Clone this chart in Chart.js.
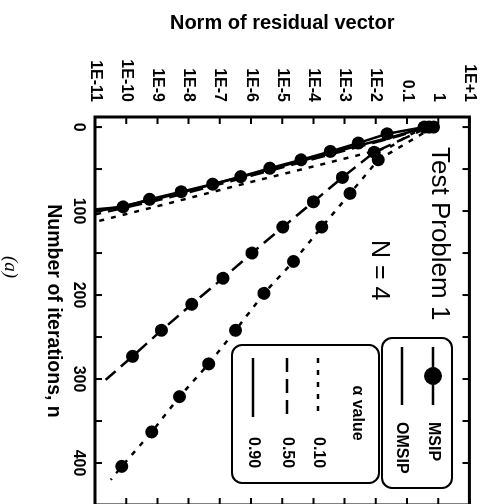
<!DOCTYPE html>
<html>
<head>
<meta charset="utf-8">
<title>Test Problem 1 - residual norm</title>
<script src="https://cdn.jsdelivr.net/npm/chart.js@4.4.1/dist/chart.umd.min.js"></script>
<style>
  html, body { margin: 0; padding: 0; background: #fff; overflow: hidden; width: 494px; height: 504px; }
  /* the figure is printed a quarter turn clockwise */
  #turn { position: absolute; left: 0; top: 0; width: 520px; height: 494px;
          transform-origin: 0 0; transform: translate(494px, 0) rotate(90deg); }
</style>
</head>
<body>
<div id="turn"><canvas id="residuals" width="520" height="494"></canvas></div>
<script>
// Iterations (n) and norm of residual vector

// MSIP runs (drawn with markers)
const msip10N = [0, 39, 79, 119, 160, 198, 242, 282, 321, 363, 404, 420];
const msip10R = [7.1e-1, 1.2e-2, 1.5e-3, 1.85e-4, 2.3e-5, 2.6e-6, 3.2e-7, 4.4e-8, 5.1e-9, 6.6e-10, 7.2e-11, 3.2e-11];
const msip50N = [0, 30, 60, 89, 119, 150, 180, 211, 242, 273, 301];
const msip50R = [5.0e-1, 8.9e-3, 8.5e-4, 1.0e-4, 1.05e-5, 1.07e-6, 1.26e-7, 1.26e-8, 1.35e-9, 1.6e-10, 2.2e-11];
const msip90N = [0, 8, 19, 29, 39, 49, 59, 68, 77, 86, 95, 98];
const msip90R = [3.5e-1, 2.3e-2, 2.75e-3, 3.5e-4, 4.0e-5, 4.0e-6, 4.7e-7, 5.9e-8, 5.8e-9, 5.6e-10, 7.9e-11, 1.0e-11];

// OMSIP runs (lines only)
const omsip10N = [0, 10, 24, 45, 65, 90, 113];
const omsip10R = [4.0e-1, 1.1e-1, 2.8e-2, 1.6e-4, 1.1e-6, 2.8e-9, 1.0e-11];
const omsip50N = [0, 10, 25, 45, 65, 85, 104];
const omsip50R = [4.0e-1, 6.3e-2, 2.0e-3, 2.0e-5, 2.0e-7, 1.8e-9, 1.0e-11];
const omsip90N = [0, 10, 25, 45, 65, 85, 101];
const omsip90R = [4.0e-1, 5.0e-2, 1.4e-3, 1.4e-5, 1.26e-7, 1.1e-9, 1.0e-11];

const methodLabels = ['MSIP', 'OMSIP'];
const alphaLabels = ['0.10', '0.50', '0.90'];

// axis ticks
const xTicks = [0, 50, 100, 150, 200, 250, 300, 350, 400];
const xTickLabels = ['0', '', '100', '', '200', '', '300', '', '400'];
const yTicks = [1e-11, 1e-10, 1e-9, 1e-8, 1e-7, 1e-6, 1e-5, 1e-4, 1e-3, 1e-2, 1e-1, 1, 10];
const yTickLabels = ['1E-11', '1E-10', '1E-9', '1E-8', '1E-7', '1E-6', '1E-5', '1E-4', '1E-3', '1E-2', '0.1', '1', '1E+1'];

const SANS = "'Liberation Sans', Arial, Helvetica, sans-serif";
const SERIF = "'Liberation Serif', 'Times New Roman', serif";

// dash pattern per alpha value: 0.10 short dashes, 0.50 long dashes, 0.90 solid
const dashes = [[5, 7], [14, 7], []];

function toPoints(ns, rs) {
    return ns.map((n, i) => ({ x: n, y: rs[i] }));
}

// MSIP: last point only carries the line to the edge, no marker
function msipSet(ns, rs, a) {
    const last = ns.length - 1;
    return {
        label: methodLabels[0] + ' ' + alphaLabels[a],
        data: toPoints(ns, rs),
        showLine: true,
        borderColor: '#000',
        backgroundColor: '#000',
        borderWidth: 2.5,
        borderDash: dashes[a],
        pointRadius: ctx => (ctx.dataIndex === last ? 0 : 6.5),
        pointBorderWidth: 0
    };
}

function omsipSet(ns, rs, a) {
    return {
        label: methodLabels[1] + ' ' + alphaLabels[a],
        data: toPoints(ns, rs),
        showLine: true,
        borderColor: '#000',
        borderWidth: 2.5,
        borderDash: dashes[a],
        pointRadius: 0
    };
}

function roundBox(ctx, x, y, w, h, r) {
    ctx.beginPath();
    ctx.moveTo(x + r, y);
    ctx.arcTo(x + w, y, x + w, y + h, r);
    ctx.arcTo(x + w, y + h, x, y + h, r);
    ctx.arcTo(x, y + h, x, y, r);
    ctx.arcTo(x, y, x + w, y, r);
    ctx.closePath();
    ctx.stroke();
}

function sample(ctx, x0, x1, y, dash) {
    ctx.setLineDash(dash);
    ctx.beginPath();
    ctx.moveTo(x0, y);
    ctx.lineTo(x1, y);
    ctx.stroke();
    ctx.setLineDash([]);
}

// frame with inward ticks on all four sides, legend boxes and notes
const framePlugin = {
    id: 'frame',
    afterDraw(chart) {
        const { ctx, chartArea: a, scales: { x, y } } = chart;
        ctx.save();
        ctx.strokeStyle = '#000';
        ctx.fillStyle = '#000';

        ctx.lineWidth = 3;
        ctx.strokeRect(a.left, a.top, a.right - a.left, a.bottom - a.top);

        ctx.lineWidth = 2;
        ctx.beginPath();
        xTicks.forEach(v => {
            const px = x.getPixelForValue(v);
            ctx.moveTo(px, a.bottom); ctx.lineTo(px, a.bottom - 7);
            ctx.moveTo(px, a.top); ctx.lineTo(px, a.top + 7);
        });
        yTicks.forEach(v => {
            const py = y.getPixelForValue(v);
            ctx.moveTo(a.left, py); ctx.lineTo(a.left + 7, py);
            ctx.moveTo(a.right, py); ctx.lineTo(a.right - 7, py);
        });
        ctx.stroke();

        // titles inside the plot
        ctx.textAlign = 'left';
        ctx.textBaseline = 'alphabetic';
        ctx.font = '26px ' + SANS;
        ctx.fillText('Test Problem 1', 147, 62);
        ctx.font = '25px ' + SANS;
        ctx.fillText('N = 4', 240, 122);

        // legend: method
        ctx.lineWidth = 2;
        roundBox(ctx, 338, 42, 150, 70, 10);
        ctx.lineWidth = 2.5;
        sample(ctx, 347, 405, 61, []);
        ctx.beginPath();
        ctx.arc(376, 61, 9, 0, Math.PI * 2);
        ctx.fill();
        sample(ctx, 347, 405, 92, []);
        ctx.font = 'bold 16px ' + SANS;
        ctx.textBaseline = 'middle';
        ctx.fillText(methodLabels[0], 422, 61);
        ctx.fillText(methodLabels[1], 422, 93);

        // legend: alpha value
        ctx.lineWidth = 2;
        roundBox(ctx, 345, 115, 138, 147, 10);
        ctx.textAlign = 'center';
        ctx.fillText('\u03b1 value', 413, 137);
        ctx.textAlign = 'left';
        ctx.lineWidth = 2.5;
        [176, 207, 241].forEach((ry, i) => {
            sample(ctx, 358, 417, ry, dashes[i]);
            ctx.fillText(alphaLabels[i], 437, ry);
        });

        // panel tag
        ctx.font = 'italic 19px ' + SERIF;
        ctx.textAlign = 'center';
        ctx.fillText('(a)', 267, 484);
        ctx.restore();
    }
};

new Chart(document.getElementById('residuals'), {
    type: 'scatter',
    data: {
        datasets: [
            msipSet(msip10N, msip10R, 0),
            msipSet(msip50N, msip50R, 1),
            msipSet(msip90N, msip90R, 2),
            omsipSet(omsip10N, omsip10R, 0),
            omsipSet(omsip50N, omsip50R, 1),
            omsipSet(omsip90N, omsip90R, 2)
        ]
    },
    options: {
        responsive: false,
        animation: false,
        devicePixelRatio: 1,
        layout: { padding: { left: 0, top: 19, right: 15, bottom: 0 } },
        plugins: {
            legend: { display: false },
            tooltip: { enabled: false }
        },
        scales: {
            x: {
                type: 'linear',
                min: -12,
                max: 450,
                grid: { display: false, drawTicks: false },
                border: { display: false },
                afterBuildTicks: s => { s.ticks = xTicks.map(v => ({ value: v })); },
                afterFit: s => { s.height = 95; },
                ticks: {
                    padding: 7,
                    color: '#000',
                    maxRotation: 0,
                    autoSkip: false,
                    font: { family: SANS, size: 16, weight: 'bold' },
                    callback: (v, i) => xTickLabels[i]
                },
                title: {
                    display: true,
                    text: 'Number of iterations, n',
                    color: '#000',
                    font: { family: SANS, size: 19.5, weight: 'bold' },
                    padding: { top: 0, bottom: 42 }
                }
            },
            y: {
                type: 'logarithmic',
                min: 1e-11,
                max: 10,
                grid: { display: false, drawTicks: false },
                border: { display: false },
                afterBuildTicks: s => { s.ticks = yTicks.map(v => ({ value: v })); },
                afterFit: s => { s.width = 117; },
                ticks: {
                    padding: 15,
                    color: '#000',
                    autoSkip: false,
                    font: { family: SANS, size: 16, weight: 'bold' },
                    callback: (v, i) => yTickLabels[i]
                },
                title: {
                    display: true,
                    text: 'Norm of residual vector',
                    color: '#000',
                    font: { family: SANS, size: 20, weight: 'bold' },
                    padding: { top: 11, bottom: 0 }
                }
            }
        }
    },
    plugins: [framePlugin]
});
</script>
</body>
</html>
